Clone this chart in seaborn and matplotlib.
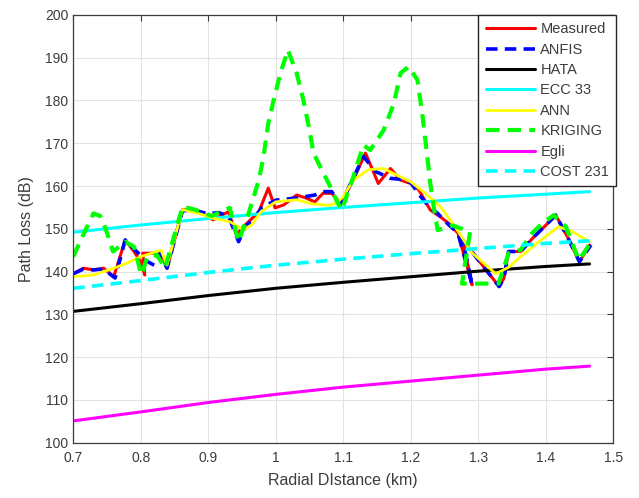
import numpy as np
import pandas as pd
import matplotlib
matplotlib.use('Agg')
import matplotlib.pyplot as plt
import seaborn as sns

# --- data (km, dB) ---
meas_x = [0.700, 0.715, 0.730, 0.745, 0.760, 0.777, 0.790, 0.800, 0.806, 0.803, 0.818, 0.828, 0.839,
          0.862, 0.888, 0.907, 0.930, 0.942, 0.950, 0.962, 0.975, 0.989, 0.999, 1.012, 1.031, 1.045,
          1.058, 1.070, 1.083, 1.096, 1.115, 1.133, 1.152, 1.170, 1.185, 1.200, 1.212, 1.229, 1.244,
          1.256, 1.270, 1.291, 1.277, 1.331, 1.338, 1.345, 1.363, 1.383, 1.398, 1.415, 1.432, 1.450, 1.465]
meas_y = [139.5, 140.8, 140.4, 140.8, 138.8, 147.4, 144.7, 142.3, 139.2, 144.3, 144.3, 144.5, 140.8,
          154.5, 154.0, 152.1, 154.0, 148.5, 150.2, 152.0, 154.0, 159.5, 154.9, 155.6, 157.9, 157.2,
          156.3, 158.3, 158.3, 156.0, 161.4, 167.7, 160.6, 164.1, 161.4, 160.6, 159.1, 154.4, 152.8,
          151.3, 149.0, 136.9, 147.4, 136.5, 138.4, 144.7, 144.7, 148.2, 150.5, 153.2, 148.2, 142.3, 146.2]

anfis_x = [0.700, 0.715, 0.730, 0.745, 0.762, 0.777, 0.792, 0.808, 0.820, 0.828, 0.839, 0.862, 0.888,
           0.900, 0.915, 0.930, 0.945, 0.955, 0.965, 0.980, 1.000, 1.031, 1.058, 1.070, 1.083, 1.096,
           1.130, 1.148, 1.170, 1.190, 1.200, 1.215, 1.229, 1.240, 1.256, 1.270, 1.291, 1.277, 1.331,
           1.338, 1.345, 1.363, 1.383, 1.398, 1.415, 1.432, 1.450, 1.467]
anfis_y = [139.5, 140.6, 140.4, 140.6, 138.5, 147.4, 145.0, 142.5, 141.5, 144.3, 140.8, 154.3, 154.0,
           153.5, 153.8, 153.0, 147.0, 150.5, 152.0, 155.0, 156.7, 157.2, 157.9, 158.7, 158.7, 155.6,
           166.9, 163.4, 161.8, 161.5, 160.8, 157.5, 154.9, 153.6, 151.0, 149.0, 136.9, 147.4, 136.5,
           138.4, 144.7, 144.7, 148.2, 150.5, 153.2, 148.2, 142.3, 146.2]

ann_x = [0.700, 0.730, 0.760, 0.780, 0.800, 0.820, 0.830, 0.839, 0.862, 0.888, 0.907, 0.933, 0.952,
         0.965, 0.978, 1.000, 1.031, 1.055, 1.080, 1.090, 1.100, 1.115, 1.137, 1.160, 1.180, 1.200,
         1.220, 1.244, 1.266, 1.290, 1.326, 1.345, 1.363, 1.390, 1.419, 1.440, 1.465]
ann_y = [138.8, 139.2, 140.8, 142.0, 143.5, 144.5, 145.0, 141.5, 154.5, 153.5, 152.5, 151.6, 149.7,
         151.0, 154.0, 156.3, 156.8, 155.8, 155.5, 156.0, 157.5, 161.4, 163.8, 164.1, 162.5, 161.0,
         158.5, 155.2, 150.5, 144.5, 139.5, 141.0, 143.5, 147.0, 150.5, 149.3, 147.0]

krig_x = [0.700, 0.710, 0.730, 0.740, 0.748, 0.759, 0.777, 0.790, 0.801, 0.810, 0.824, 0.836, 0.862,
          0.880, 0.905, 0.932, 0.945, 0.960, 0.975, 0.982, 0.989, 0.997, 1.007, 1.018, 1.031, 1.041,
          1.049, 1.056, 1.066, 1.081, 1.091, 1.098, 1.115, 1.130, 1.140, 1.160, 1.175, 1.185, 1.197,
          1.210, 1.217, 1.224, 1.229, 1.234, 1.240, 1.262, 1.288, 1.276, 1.330, 1.336, 1.345, 1.363,
          1.380, 1.395, 1.412, 1.430, 1.449, 1.458, 1.467]
krig_y = [143.5, 147.0, 153.6, 153.0, 150.0, 144.7, 147.0, 145.8, 139.2, 143.5, 143.9, 140.8, 155.2,
          154.5, 153.0, 154.9, 147.0, 153.7, 161.4, 166.9, 174.7, 180.1, 186.4, 191.8, 186.4, 180.1,
          173.9, 167.7, 164.5, 159.8, 156.3, 154.4, 162.2, 169.6, 168.4, 173.1, 179.3, 186.4, 187.9,
          184.8, 177.0, 167.7, 160.6, 155.2, 149.7, 150.8, 149.3, 137.2, 137.2, 140.0, 144.3, 145.1,
          149.0, 151.3, 153.2, 150.5, 142.7, 144.7, 147.0]

model_x = [0.700, 0.800, 0.900, 1.000, 1.100, 1.200, 1.300, 1.400, 1.465]
hata_y = [130.7, 132.5, 134.4, 136.1, 137.5, 138.8, 140.1, 141.2, 141.8]
ecc33_y = [149.2, 150.9, 152.4, 153.8, 155.0, 156.1, 157.2, 158.1, 158.7]
egli_y = [105.1, 107.2, 109.4, 111.3, 113.0, 114.4, 115.8, 117.2, 117.9]
cost231_y = [136.1, 137.9, 139.8, 141.5, 142.9, 144.2, 145.4, 146.6, 147.2]

series = [
    ('Measured', meas_x, meas_y, '#ff0000', '-', 2.2),
    ('ANFIS', anfis_x, anfis_y, '#0000ff', (0, (3.2, 2.0)), 2.6),
    ('HATA', model_x, hata_y, '#000000', '-', 2.2),
    ('ECC 33', model_x, ecc33_y, '#00ffff', '-', 2.2),
    ('ANN', ann_x, ann_y, '#ffff00', '-', 2.0),
    ('KRIGING', krig_x, krig_y, '#00ff00', (0, (3.2, 2.0)), 3.0),
    ('Egli', model_x, egli_y, '#ff00ff', '-', 2.2),
    ('COST 231', model_x, cost231_y, '#00ffff', (0, (3.2, 2.0)), 2.6),
]

sns.set_theme(style='whitegrid')
plt.rcParams['font.family'] = ['Liberation Sans', 'DejaVu Sans']
plt.rcParams['xtick.direction'] = 'in'
plt.rcParams['ytick.direction'] = 'in'

fig = plt.figure(figsize=(6.39, 4.98), dpi=100)
ax = fig.add_axes([0.1146, 0.111, 0.845, 0.859])

for name, xs, ys, col, ls, lw in series:
    df = pd.DataFrame({'x': xs, 'y': ys})
    sns.lineplot(data=df, x='x', y='y', sort=False, estimator=None, ax=ax,
                 color=col, linestyle=ls, linewidth=lw, label=name)

ax.set_xlim(0.7, 1.5)
ax.set_ylim(100, 200)
ax.set_xticks(np.arange(0.7, 1.51, 0.1))
ax.set_yticks(np.arange(100, 201, 10))
ax.set_xticklabels(['0.7', '0.8', '0.9', '1', '1.1', '1.2', '1.3', '1.4', '1.5'])
ax.tick_params(axis='both', labelsize=10, colors='#3c3c3c', length=4, width=0.8,
               top=True, right=True, labeltop=False, labelright=False)
ax.tick_params(axis='x', pad=6)
ax.grid(True, color='#e2e2e2', linewidth=0.8)
for sp in ax.spines.values():
    sp.set_color('#3c3c3c')
    sp.set_linewidth(0.9)
ax.set_facecolor('white')

ax.set_xlabel('Radial DIstance (km)', fontsize=11.5, color='#3c3c3c', labelpad=6)
ax.set_ylabel('Path Loss (dB)', fontsize=11.5, color='#3c3c3c', labelpad=8)

leg = ax.legend(loc='upper right', bbox_to_anchor=(1.006, 1.0), borderaxespad=0, fontsize=10.5,
                handlelength=3.4, handletextpad=0.35, labelspacing=0.44, borderpad=0.5,
                fancybox=False, framealpha=1, edgecolor='#262626')
leg.get_frame().set_linewidth(1.0)
for t in leg.get_texts():
    t.set_color('#3c3c3c')

fig.savefig('out.png', dpi=100)
